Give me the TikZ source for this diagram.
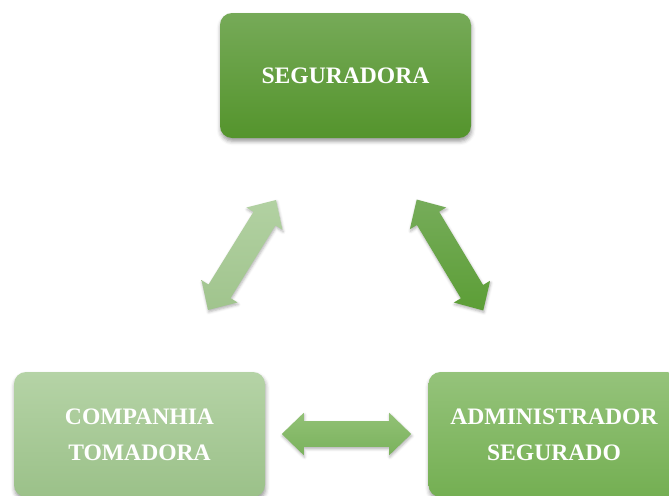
\documentclass[tikz,border=0pt]{standalone}
\usepackage{fontspec}
\setmainfont{Liberation Serif}
\usetikzlibrary{shapes.arrows,shadows.blur}
\definecolor{topA}{RGB}{118,170,88}
\definecolor{topB}{RGB}{84,148,44}
\definecolor{leftA}{RGB}{181,211,166}
\definecolor{leftB}{RGB}{155,193,137}
\definecolor{rightA}{RGB}{149,195,123}
\definecolor{rightB}{RGB}{116,175,82}
\definecolor{laA}{RGB}{178,209,162}
\definecolor{laB}{RGB}{160,196,141}
\definecolor{raA}{RGB}{118,172,90}
\definecolor{raB}{RGB}{92,158,54}
\definecolor{haA}{RGB}{146,193,118}
\definecolor{haB}{RGB}{122,178,92}
\tikzset{
  box/.style={rounded corners=9pt, minimum width=188.25pt, minimum height=93.75pt,
    text=white, align=center, font=\fontsize{17.7}{27}\selectfont\bfseries,
    blur shadow={shadow xshift=0.5pt, shadow yshift=-2.5pt, shadow blur radius=3pt, shadow opacity=40}},
  dblarrow/.style={double arrow, double arrow head extend=6.2pt, minimum width=0pt,
    double arrow tip angle=88, inner xsep=0pt, inner ysep=9.5pt, minimum height=97pt,
    blur shadow={shadow xshift=0.5pt, shadow yshift=-1.5pt, shadow blur radius=2pt, shadow opacity=30}}
}
\begin{document}
\begin{tikzpicture}[x=0.75pt,y=-0.75pt]
\useasboundingbox (0,0) rectangle (669,496);
\node[box, top color=topA, bottom color=topB] (seg) at (345.5,75.5) {SEGURADORA};
\node[box, top color=leftA, bottom color=leftB] (comp) at (139.5,434.5) {COMPANHIA\\TOMADORA};
\node[box, top color=rightA, bottom color=rightB] (adm) at (554,434.5) {ADMINISTRADOR\\SEGURADO};
\coordinate (la1) at (208,310);
\coordinate (la2) at (276,200);
\coordinate (ra1) at (417,200);
\coordinate (ra2) at (483,310);
\coordinate (ha1) at (282,434);
\coordinate (ha2) at (411,434);
\path (la1) -- (la2) node[midway, sloped, dblarrow, top color=laA, bottom color=laB] (la) {};
\path (ra1) -- (ra2) node[midway, sloped, dblarrow, top color=raA, bottom color=raB] (ra) {};
\path (ha1) -- (ha2) node[midway, sloped, dblarrow, top color=haA, bottom color=haB] (ha) {};
\end{tikzpicture}
\end{document}
